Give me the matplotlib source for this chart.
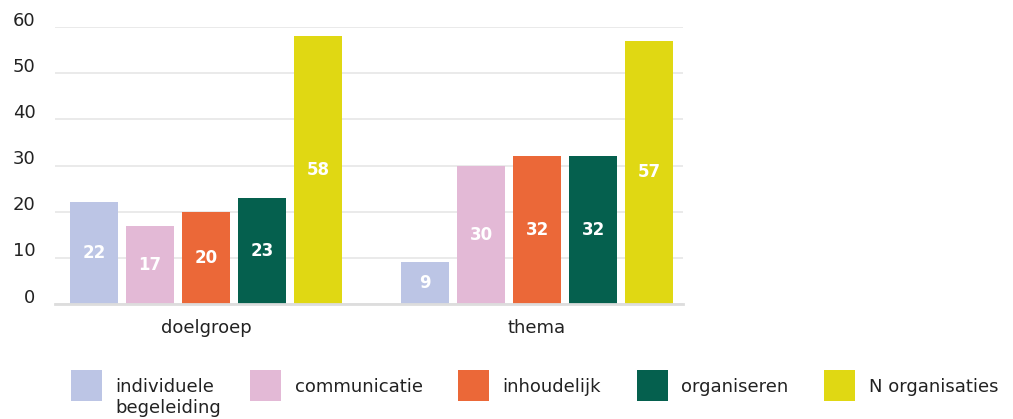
import matplotlib.pyplot as plt
import numpy as np
from matplotlib.transforms import ScaledTranslation

groups = ["doelgroep", "thema"]
series = ["individuele", "communicatie", "inhoudelijk", "organiseren", "N organisaties"]
label_extra = "begeleiding"
values = [
    [22, 9],
    [17, 30],
    [20, 32],
    [23, 32],
    [58, 57],
]
colors = ["#BCC5E5", "#E3B9D6", "#EB6838", "#05604E", "#E0D813"]

plt.rcParams['font.family'] = ['DejaVu Sans']
txt_color = "#222222"

fig = plt.figure(figsize=(10.13, 4.19), dpi=100)
ax = fig.add_axes([0.0543, 0.2745, 0.62, 0.661])

x = np.arange(len(groups))
width = 0.145
step = 0.169
for i, (name, vals, c) in enumerate(zip(series, values, colors)):
    pos = x + (i - 2) * step
    bars = ax.bar(pos, vals, width, color=c, label=name, zorder=3)
    for b, v in zip(bars, vals):
        ax.text(b.get_x() + b.get_width() / 2, v / 2, str(v), ha="center", va="center",
                color="white", fontsize=12, fontweight="bold", zorder=4)

ax.set_xlim(-0.456, 1.441)
ax.set_ylim(0, 60)
ax.set_yticks(range(0, 61, 10))
ax.yaxis.grid(True, color="#E6E6E6", linewidth=1.2, zorder=0)
ax.set_xticks(x)
ax.set_xticklabels(groups, fontsize=13, color=txt_color)
ax.tick_params(axis="x", length=0, pad=11)
ax.tick_params(axis="y", length=0, pad=14, labelsize=13, labelcolor=txt_color)
for lab in ax.get_yticklabels():
    lab.set_transform(lab.get_transform() + ScaledTranslation(0, 6 / 72, fig.dpi_scale_trans))
for s in ["top", "right", "left"]:
    ax.spines[s].set_visible(False)
ax.spines["bottom"].set_color("#DDDDDD")
ax.spines["bottom"].set_linewidth(2)
ax.spines["bottom"].set_zorder(5)

leg = fig.legend(loc="center left", bbox_to_anchor=(0.07, 0.079), ncol=5, frameon=False,
                 fontsize=13, handlelength=1.72, handleheight=2.26, handletextpad=0.75,
                 columnspacing=1.97, borderpad=0, borderaxespad=0, labelcolor=txt_color)

# second line of the first legend label, placed under the first line
fig.canvas.draw()
bb = leg.get_texts()[0].get_window_extent().transformed(fig.transFigure.inverted())
fig.text(bb.x0, bb.y0 - 0.008, label_extra, fontsize=13, color=txt_color, ha="left", va="top")

fig.savefig("out.png", dpi=100)
